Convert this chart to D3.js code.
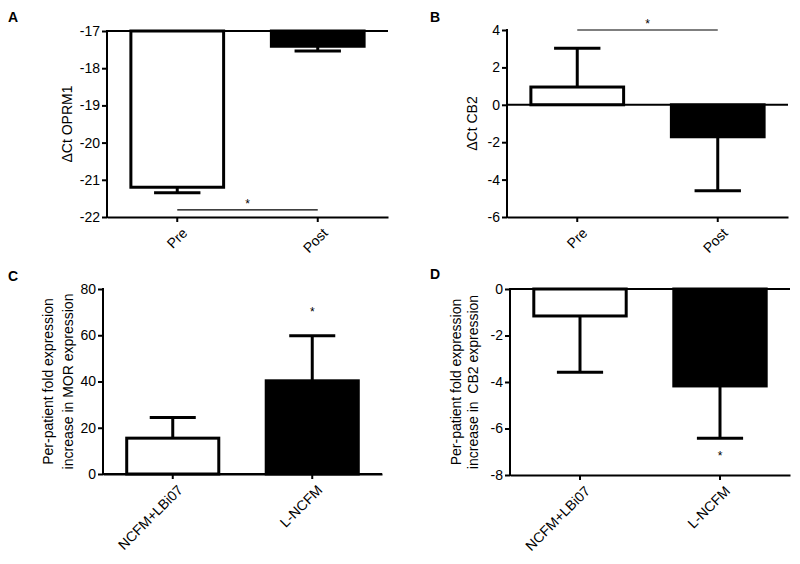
<!DOCTYPE html>
<html><head><meta charset="utf-8">
<script src="https://cdn.jsdelivr.net/npm/d3@7"></script>
<style>
body{margin:0;background:#fff;}
svg{font-family:Arial,"Liberation Sans",Helvetica,sans-serif;}
</style></head>
<body><svg id="c" width="800" height="564"></svg>
<script>
// ---- data ----
const categoriesAB = ["Pre", "Post"];
const oprm1Means = [-21.2, -17.41];
const oprm1Err = [0.15, 0.13];
const oprm1Ticks = [-22, -21, -20, -19, -18, -17];

const cb2Means = [0.95, -1.71];
const cb2Err = [2.08, 2.89];
const cb2Ticks = [-6, -4, -2, 0, 2, 4];

const categoriesCD = ["NCFM+LBi07", "L-NCFM"];
const morMeans = [15.5, 40.3];
const morErr = [8.9, 19.5];
const morTicks = [0, 20, 40, 60, 80];

const cb2FoldMeans = [-1.16, -4.17];
const cb2FoldErr = [2.42, 2.25];
const cb2FoldTicks = [-8, -6, -4, -2, 0];

const barFills = ["#fff", "#000"];

const svg = d3.select("#c");

function panel(o) {
  const g = svg.append("g");
  const x = d3.scaleBand().domain(o.cats).range([o.x0, o.x1]).paddingInner(0.34).paddingOuter(0.17);
  const y = d3.scaleLinear().domain(o.domain).range([o.y0, o.y1]);
  const base = o.base;

  // bars
  o.cats.forEach((c, i) => {
    const v = o.means[i];
    const top = Math.min(y(v), y(base)), h = Math.abs(y(v) - y(base));
    const bx = x(c), bw = x.bandwidth();
    const cx = bx + bw / 2;
    const dir = v >= base ? 1 : -1;
    const ev = v + dir * o.errs[i];
    g.append("line").attr("x1", cx).attr("x2", cx).attr("y1", y(v)).attr("y2", y(ev))
      .attr("stroke", "#000").attr("stroke-width", 3);
    g.append("line").attr("x1", cx - bw / 4).attr("x2", cx + bw / 4).attr("y1", y(ev)).attr("y2", y(ev))
      .attr("stroke", "#000").attr("stroke-width", 3);
    g.append("rect").attr("x", bx).attr("y", top).attr("width", bw).attr("height", h)
      .attr("fill", barFills[i]).attr("stroke", "#000").attr("stroke-width", 3);
  });

  // baseline line
  g.append("line").attr("x1", o.x0).attr("x2", o.x1).attr("y1", y(base)).attr("y2", y(base))
    .attr("stroke", "#000").attr("stroke-width", 2);

  // y axis
  const ya = g.append("g").attr("transform", `translate(${o.x0},0)`)
    .call(d3.axisLeft(y).tickValues(o.ticks).tickSize(5).tickPadding(2).tickFormat(d => String(d)));
  ya.select(".domain").attr("stroke-width", 2).attr("d", `M-0,${o.y0 + 1}V${o.y1 - 1}`);
  ya.selectAll(".tick line").attr("stroke-width", 2);
  ya.selectAll(".tick text").attr("font-size", 14).attr("font-family", "Arial,'Liberation Sans',sans-serif").attr("fill", "#000");

  // x axis at bottom of domain
  const xa = g.append("g").attr("transform", `translate(0,${o.y0})`)
    .call(d3.axisBottom(x).tickSize(5).tickSizeOuter(0).tickFormat(() => ""));
  xa.select(".domain").attr("stroke-width", 2);
  xa.selectAll(".tick line").attr("stroke-width", 2);
  o.cats.forEach(c => {
    g.append("text").attr("transform", `translate(${x(c) + x.bandwidth() / 2 + 4},${o.y0 + 10}) rotate(-45)`)
      .attr("text-anchor", "end").attr("dy", "0.7em").attr("font-size", 14).text(c);
  });

  // y label
  const lx = o.labelX, ly = (o.y0 + o.y1) / 2;
  o.ylabel.forEach((t, k) => {
    g.append("text").attr("transform", `translate(${lx + k * o.labelGap},${ly}) rotate(-90)`)
      .attr("text-anchor", "middle").attr("font-size", 14).attr("dy", "0.35em")
      .style("white-space", "pre").text(t);
  });

  // panel letter
  g.append("text").attr("x", o.letterX).attr("y", o.letterY).attr("font-size", 14)
    .attr("font-weight", "bold").text(o.letter);

  // significance
  if (o.sigLine != null) {
    const sx1 = x(o.cats[0]) + x.bandwidth() / 2, sx2 = x(o.cats[1]) + x.bandwidth() / 2;
    g.append("line").attr("x1", sx1).attr("x2", sx2).attr("y1", y(o.sigLine)).attr("y2", y(o.sigLine))
      .attr("stroke", "#000").attr("stroke-width", 1.2);
    g.append("text").attr("x", (sx1 + sx2) / 2).attr("y", y(o.sigLine) - 2).attr("text-anchor", "middle")
      .attr("font-size", 12).text("*");
  }
  if (o.starAt != null) {
    const cx = x(o.cats[1]) + x.bandwidth() / 2;
    g.append("text").attr("x", cx).attr("y", y(o.starAt) + 6).attr("text-anchor", "middle")
      .attr("font-size", 12).text("*");
  }
}

panel({cats: categoriesAB, means: oprm1Means, errs: oprm1Err, ticks: oprm1Ticks, domain: [-22, -17], base: -17,
  x0: 107, x1: 388, y0: 217, y1: 31, ylabel: ["\u0394Ct OPRM1"], labelX: 67, labelGap: 0,
  letter: "A", letterX: 8, letterY: 22, sigLine: -21.81});
panel({cats: categoriesAB, means: cb2Means, errs: cb2Err, ticks: cb2Ticks, domain: [-6, 4], base: 0,
  x0: 507, x1: 788, y0: 217, y1: 30, ylabel: ["\u0394Ct CB2"], labelX: 472, labelGap: 0,
  letter: "B", letterX: 430, letterY: 22, sigLine: 4});
panel({cats: categoriesCD, means: morMeans, errs: morErr, ticks: morTicks, domain: [0, 80], base: 0,
  x0: 103, x1: 382, y0: 474, y1: 289, ylabel: ["Per-patient fold expression", "increase in MOR expression"],
  labelX: 48, labelGap: 20, letter: "C", letterX: 8, letterY: 281, starAt: 71});
panel({cats: categoriesCD, means: cb2FoldMeans, errs: cb2FoldErr, ticks: cb2FoldTicks, domain: [-8, 0], base: 0,
  x0: 510, x1: 790, y0: 475, y1: 289, ylabel: ["Per-patient fold expression", "increase in  CB2 expression"],
  labelX: 456, labelGap: 17, letter: "D", letterX: 430, letterY: 279, starAt: -7.1});
</script></body></html>
